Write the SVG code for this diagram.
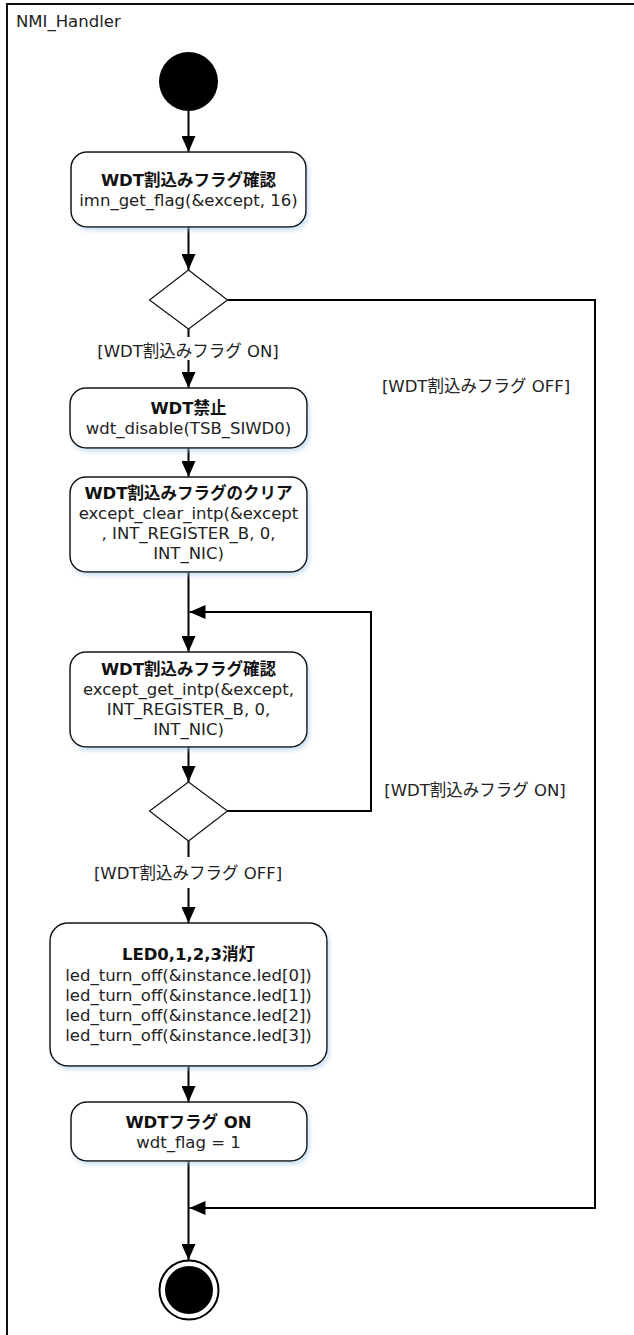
<svg xmlns="http://www.w3.org/2000/svg" width="634" height="1335" viewBox="0 0 634 1335">
<style>
text{font-family:"DejaVu Sans","Noto Sans CJK JP",sans-serif;font-size:16.5px;fill:#222}
.c{text-anchor:middle}
.b{font-weight:bold;fill:#111}
.box{fill:#fff;stroke:#111;stroke-width:1.5;filter:url(#sh)}
.dia{fill:#fff;stroke:#111;stroke-width:1.2}
.ln{fill:none;stroke:#000;stroke-width:2}
.arr{marker-end:url(#ah)}
</style>
<defs>
<marker id="ah" markerUnits="userSpaceOnUse" markerWidth="16" markerHeight="14" refX="16" refY="7" orient="auto">
<path d="M0,0 L16,7 L0,14 z" fill="#000"/>
</marker>
<filter id="sh" x="-10%" y="-10%" width="125%" height="130%">
<feDropShadow dx="2" dy="3" stdDeviation="2" flood-color="#9cc3e6" flood-opacity="0.5"/>
</filter>
</defs>
<rect width="634" height="1335" fill="#fff"/>
<g id="frame">
<rect x="7" y="4" width="700" height="1400" fill="none" stroke="#111" stroke-width="2"/>
<text x="16" y="27">NMI_Handler</text>
</g>
<g id="connectors">
<path class="ln arr" d="M188.5 111 V152"/>
<path class="ln arr" d="M188.5 227 V270"/>
<path class="ln" d="M188.5 329 V337"/>
<path class="ln arr" d="M188.5 360 V388"/>
<path class="ln arr" d="M188.5 448 V477"/>
<path class="ln arr" d="M188.5 572 V652"/>
<path class="ln arr" d="M188.5 747 V782"/>
<path class="ln" d="M188.5 841 V857"/>
<path class="ln arr" d="M188.5 888 V923"/>
<path class="ln arr" d="M188.5 1066 V1102"/>
<path class="ln arr" d="M188.5 1161 V1260"/>
<path class="ln arr" d="M227.5 300 H595 V1208 H189.5"/>
<path class="ln arr" d="M227.5 811 H371 V612 H189.5"/>
<text x="188" y="357" class="c">[WDT割込みフラグ ON]</text>
<text x="476" y="392" class="c">[WDT割込みフラグ OFF]</text>
<text x="188" y="879" class="c">[WDT割込みフラグ OFF]</text>
<text x="475" y="796" class="c">[WDT割込みフラグ ON]</text>
</g>
<g id="start"><circle cx="188.5" cy="81.5" r="29.5" fill="#000"/></g>
<g id="n1">
<rect class="box" x="71" y="152" width="235" height="75" rx="16"/>
<text x="188.5" y="186" class="c b">WDT割込みフラグ確認</text>
<text x="188.5" y="206" class="c">imn_get_flag(&amp;except, 16)</text>
</g>
<g id="d1"><path class="dia" d="M188.5 270 L227.5 300 L188.5 329 L149.5 300 z"/></g>
<g id="n2">
<rect class="box" x="70" y="388" width="237" height="60" rx="16"/>
<text x="188.5" y="414" class="c b">WDT禁止</text>
<text x="188.5" y="434" class="c">wdt_disable(TSB_SIWD0)</text>
</g>
<g id="n3">
<rect class="box" x="70" y="477" width="237" height="95" rx="16"/>
<text x="188.5" y="499" class="c b">WDT割込みフラグのクリア</text>
<text x="188.5" y="519" class="c">except_clear_intp(&amp;except</text>
<text x="188.5" y="539" class="c">, INT_REGISTER_B, 0,</text>
<text x="188.5" y="559" class="c">INT_NIC)</text>
</g>
<g id="n4">
<rect class="box" x="70" y="652" width="237" height="95" rx="16"/>
<text x="188.5" y="675" class="c b">WDT割込みフラグ確認</text>
<text x="188.5" y="695" class="c">except_get_intp(&amp;except,</text>
<text x="188.5" y="715" class="c">INT_REGISTER_B, 0,</text>
<text x="188.5" y="735" class="c">INT_NIC)</text>
</g>
<g id="d2"><path class="dia" d="M188.5 782 L227.5 811 L188.5 841 L149.5 811 z"/></g>
<g id="n5">
<rect class="box" x="50" y="923" width="277" height="143" rx="18"/>
<text x="188.5" y="960" class="c b">LED0,1,2,3消灯</text>
<text x="188.5" y="981" class="c">led_turn_off(&amp;instance.led[0])</text>
<text x="188.5" y="1001" class="c">led_turn_off(&amp;instance.led[1])</text>
<text x="188.5" y="1021" class="c">led_turn_off(&amp;instance.led[2])</text>
<text x="188.5" y="1041" class="c">led_turn_off(&amp;instance.led[3])</text>
</g>
<g id="n6">
<rect class="box" x="71" y="1102" width="236" height="59" rx="16"/>
<text x="188.5" y="1128" class="c b">WDTフラグ ON</text>
<text x="188.5" y="1148" class="c">wdt_flag = 1</text>
</g>
<g id="end">
<circle cx="189" cy="1290" r="29.5" fill="#fff" stroke="#000" stroke-width="2"/>
<circle cx="189" cy="1290" r="24" fill="#000"/>
</g>
</svg>
